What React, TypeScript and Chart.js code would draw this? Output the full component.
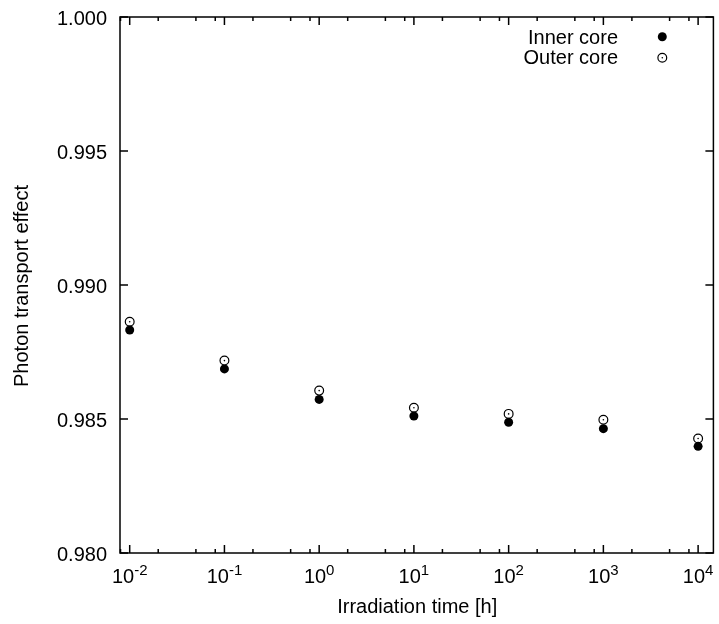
import React, { useEffect, useRef } from 'react';
import { Chart, registerables } from 'chart.js';

Chart.register(...registerables);

// ---- data ----
const irradiationTimes = [0.01, 0.1, 1, 10, 100, 1000, 10000];
const innerCore = [0.98832, 0.98687, 0.98573, 0.98511, 0.98488, 0.98464, 0.98398];
const outerCore = [0.98863, 0.98718, 0.98606, 0.98542, 0.98519, 0.98497, 0.98427];
const seriesNames = ['Inner core', 'Outer core'];
const yTickValues = [0.98, 0.985, 0.99, 0.995, 1.0];
const yTickLabels = ['0.980', '0.985', '0.990', '0.995', '1.000'];
const xTickExponents = [-2, -1, 0, 1, 2, 3, 4];
const xMinorMultipliers = [2, 5, 8];
const xTitle = 'Irradiation time [h]';
const yTitle = 'Photon transport effect';
const X_MIN = 0.0079;
const X_MAX = 14500;
const Y_MIN = 0.98;
const Y_MAX = 1.0;

const FONT = 'Liberation Sans, Arial, Helvetica, sans-serif';

export default function App() {
  const ref = useRef<HTMLCanvasElement | null>(null);

  useEffect(() => {
    if (!ref.current) return;

    const drawOpenMarker = (ctx: CanvasRenderingContext2D, x: number, y: number) => {
      ctx.beginPath();
      ctx.arc(x, y, 4.4, 0, Math.PI * 2);
      ctx.lineWidth = 1.2;
      ctx.strokeStyle = '#000';
      ctx.stroke();
      ctx.beginPath();
      ctx.arc(x, y, 0.8, 0, Math.PI * 2);
      ctx.fillStyle = '#000';
      ctx.fill();
    };

    const centerDotPlugin = {
      id: 'centerDots',
      afterDatasetsDraw(chart: any) {
        const ctx = chart.ctx;
        const meta = chart.getDatasetMeta(1);
        ctx.save();
        ctx.fillStyle = '#000';
        meta.data.forEach((pt: any) => {
          ctx.beginPath();
          ctx.arc(pt.x, pt.y, 0.8, 0, Math.PI * 2);
          ctx.fill();
        });
        ctx.restore();
      },
    };

    const framePlugin = {
      id: 'gnuplotFrame',
      afterDraw(chart: any) {
        const { ctx, chartArea } = chart;
        const xs = chart.scales.x;
        const ys = chart.scales.y;
        const { left, right, top, bottom } = chartArea;
        ctx.save();
        ctx.strokeStyle = '#000';
        ctx.fillStyle = '#000';
        ctx.lineWidth = 1.5;
        ctx.strokeRect(left, top, right - left, bottom - top);

        const major = 8;
        const minor = 4;
        ctx.beginPath();
        xTickExponents.forEach((e) => {
          const px = xs.getPixelForValue(Math.pow(10, e));
          ctx.moveTo(px, bottom);
          ctx.lineTo(px, bottom - major);
          ctx.moveTo(px, top);
          ctx.lineTo(px, top + major);
        });
        const minorExps = [xTickExponents[0] - 1, ...xTickExponents];
        minorExps.forEach((e) => {
          xMinorMultipliers.forEach((m) => {
            const v = m * Math.pow(10, e);
            if (v <= X_MIN || v >= X_MAX) return;
            const px = xs.getPixelForValue(v);
            ctx.moveTo(px, bottom);
            ctx.lineTo(px, bottom - minor);
            ctx.moveTo(px, top);
            ctx.lineTo(px, top + minor);
          });
        });
        yTickValues.forEach((v) => {
          const py = ys.getPixelForValue(v);
          ctx.moveTo(left, py);
          ctx.lineTo(left + major, py);
          ctx.moveTo(right, py);
          ctx.lineTo(right - major, py);
        });
        ctx.stroke();

        ctx.font = `20px ${FONT}`;
        ctx.textAlign = 'right';
        ctx.textBaseline = 'alphabetic';
        yTickValues.forEach((v, i) => {
          const py = ys.getPixelForValue(v);
          ctx.fillText(yTickLabels[i], left - 13, py + 7.5);
        });

        xTickExponents.forEach((e) => {
          const px = xs.getPixelForValue(Math.pow(10, e));
          const base = '10';
          const exp = String(e);
          ctx.font = `20px ${FONT}`;
          const wb = ctx.measureText(base).width;
          ctx.font = `15px ${FONT}`;
          const we = ctx.measureText(exp).width;
          const x0 = px - (wb + we) / 2;
          ctx.textAlign = 'left';
          ctx.font = `20px ${FONT}`;
          ctx.fillText(base, x0, bottom + 30);
          ctx.font = `15px ${FONT}`;
          ctx.fillText(exp, x0 + wb, bottom + 22);
        });

        ctx.font = `20px ${FONT}`;
        ctx.textAlign = 'center';
        ctx.fillText(xTitle, (left + right) / 2 + 0.5, bottom + 60);
        ctx.save();
        ctx.translate(28, (top + bottom) / 2 + 1);
        ctx.rotate(-Math.PI / 2);
        ctx.fillText(yTitle, 0, 0);
        ctx.restore();

        ctx.textAlign = 'right';
        ctx.fillText(seriesNames[0], 618, 43.5);
        ctx.fillText(seriesNames[1], 618, 63.5);
        ctx.beginPath();
        ctx.arc(662.3, 36.7, 4.5, 0, Math.PI * 2);
        ctx.fill();
        drawOpenMarker(ctx, 662.3, 57.7);

        ctx.restore();
      },
    };

    const chart = new Chart(ref.current, {
      type: 'scatter',
      data: {
        datasets: [
          {
            label: seriesNames[0],
            data: irradiationTimes.map((t, i) => ({ x: t, y: innerCore[i] })),
            pointStyle: 'circle',
            pointRadius: 4.5,
            pointBackgroundColor: '#000',
            pointBorderWidth: 0,
            showLine: false,
          },
          {
            label: seriesNames[1],
            data: irradiationTimes.map((t, i) => ({ x: t, y: outerCore[i] })),
            pointStyle: 'circle',
            pointRadius: 4.4,
            pointBackgroundColor: 'rgba(0,0,0,0)',
            pointBorderColor: '#000',
            pointBorderWidth: 1.2,
            showLine: false,
          },
        ],
      },
      options: {
        animation: false,
        responsive: false,
        devicePixelRatio: 1,
        layout: { padding: { left: 120, top: 17, right: 2, bottom: 71 } },
        plugins: {
          legend: { display: false },
          tooltip: { enabled: false },
          title: { display: false },
        },
        scales: {
          x: { type: 'logarithmic', min: X_MIN, max: X_MAX, display: false },
          y: { type: 'linear', min: Y_MIN, max: Y_MAX, display: false },
        },
      },
      plugins: [centerDotPlugin, framePlugin],
    });
    return () => chart.destroy();
  }, []);

  return (
    <div style={{ position: 'fixed', left: 0, top: 0, width: 719, height: 624, background: '#fff' }}>
      <canvas ref={ref} width={719} height={624} style={{ display: 'block' }} />
    </div>
  );
}
